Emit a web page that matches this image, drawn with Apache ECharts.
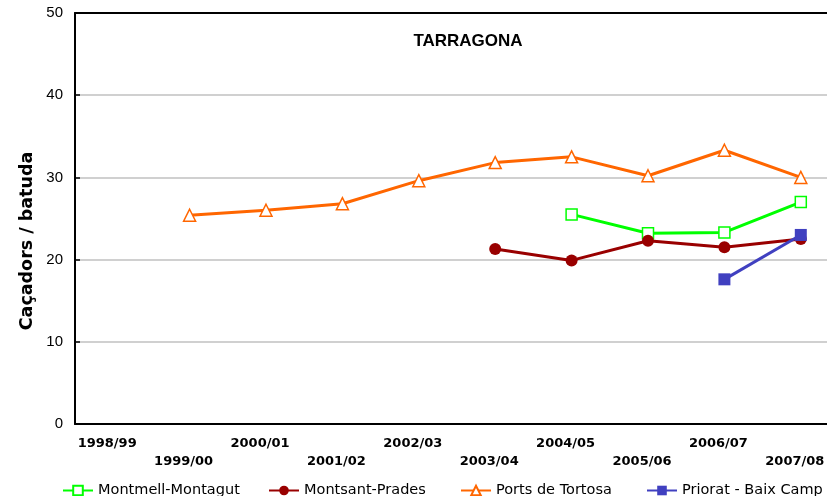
<!DOCTYPE html>
<html>
<head>
<meta charset="utf-8">
<script src="https://cdn.jsdelivr.net/npm/echarts@6/dist/echarts.min.js"></script>
<style>
  html, body { margin: 0; padding: 0; background: #fff; }
  #chart { width: 827px; height: 496px; }
</style>
</head>
<body>
<div id="chart"></div>
<script>
// temporades
const seasons = ['1998/99', '1999/00', '2000/01', '2001/02', '2002/03', '2003/04', '2004/05', '2005/06', '2006/07', '2007/08']
// caçadors per batuda
const montmell = [null, null, null, null, null, null, 25.5, 23.2, 23.3, 27.0]
const montsant = [null, null, null, null, null, 21.3, 19.9, 22.3, 21.5, 22.5]
const tortosa = [null, 25.4, 26.0, 26.8, 29.6, 31.8, 32.5, 30.2, 33.3, 30.0]
const priorat = [null, null, null, null, null, null, null, null, 17.6, 23.0]
const yTicks = [0, 10, 20, 30, 40, 50]

const font = 'DejaVu Sans'
const myChart = echarts.init(document.getElementById('chart'))

function legendFor(name, left) {
  return {
    left: left,
    top: 478,
    itemWidth: 30,
    itemHeight: 12,
    itemGap: 0,
    textStyle: { fontFamily: font, fontSize: 14.5, color: '#000' },
    data: [name],
  }
}

myChart.setOption({
  animation: false,
  backgroundColor: '#fff',
  title: {
    text: 'TARRAGONA',
    left: 463,
    top: 28,
    textAlign: 'center',
    textStyle: { fontFamily: 'Liberation Sans', fontSize: 17, fontWeight: 'bold', color: '#000' },
  },
  legend: [
    legendFor('Montmell-Montagut', 57),
    legendFor('Montsant-Prades', 263),
    legendFor('Ports de Tortosa', 455),
    legendFor('Priorat - Baix Camp', 641),
  ],
  // la gràfica original queda tallada per la dreta
  grid: { left: 75, top: 13, width: 764, bottom: 72, outerBoundsMode: 'none' },
  graphic: [{
    type: 'text',
    x: 27,
    y: 241,
    rotation: Math.PI / 2,
    style: {
      text: 'Caçadors / batuda',
      fontFamily: font,
      fontSize: 17.5,
      fontWeight: 'bold',
      fill: '#000',
      align: 'center',
      verticalAlign: 'middle',
    },
  }],
  xAxis: [{
    type: 'category',
    data: seasons,
    boundaryGap: true,
    axisLine: { lineStyle: { color: '#000', width: 2 } },
    axisTick: { alignWithLabel: true, inside: true, length: 5, interval: 0, lineStyle: { color: '#000', width: 1.5 } },
    axisLabel: {
      interval: 0,
      margin: 11,
      lineHeight: 18,
      padding: [0, 12, 0, 0],
      fontFamily: font,
      fontSize: 13,
      fontWeight: 'bold',
      color: '#000',
      formatter: (v, i) => (i % 2 ? '\n' + v : v),
    },
  }, {
    // vora superior negra
    type: 'category',
    position: 'top',
    data: seasons,
    axisLine: { lineStyle: { color: '#000', width: 2 } },
    axisTick: { show: false },
    axisLabel: { show: false },
  }],
  yAxis: {
    type: 'value',
    min: yTicks[0],
    max: yTicks[yTicks.length - 1],
    interval: 10,
    axisLine: { show: true, lineStyle: { color: '#000', width: 2 } },
    axisTick: { show: true, inside: true, length: 5, lineStyle: { color: '#000', width: 1.5 } },
    axisLabel: { margin: 12, fontFamily: 'Liberation Sans', fontSize: 15, color: '#000' },
    splitLine: { lineStyle: { color: '#c0c0c0', width: 1.5 } },
  },
  series: [{
    name: 'Montmell-Montagut',
    type: 'line',
    data: montmell,
    symbol: 'rect',
    symbolSize: 11,
    lineStyle: { color: '#00ff00', width: 3 },
    itemStyle: { color: '#fff', borderColor: '#00ff00', borderWidth: 1.5 },
  }, {
    name: 'Montsant-Prades',
    type: 'line',
    data: montsant,
    symbol: 'circle',
    symbolSize: 12,
    lineStyle: { color: '#990000', width: 3 },
    itemStyle: { color: '#990000' },
  }, {
    name: 'Ports de Tortosa',
    type: 'line',
    data: tortosa,
    symbol: 'triangle',
    symbolSize: 12,
    lineStyle: { color: '#ff6600', width: 3 },
    itemStyle: { color: '#fff', borderColor: '#ff6600', borderWidth: 1.5 },
  }, {
    name: 'Priorat - Baix Camp',
    type: 'line',
    data: priorat,
    symbol: 'rect',
    symbolSize: 12,
    lineStyle: { color: '#4040c0', width: 3 },
    itemStyle: { color: '#4040c0' },
  }],
})
</script>
</body>
</html>
